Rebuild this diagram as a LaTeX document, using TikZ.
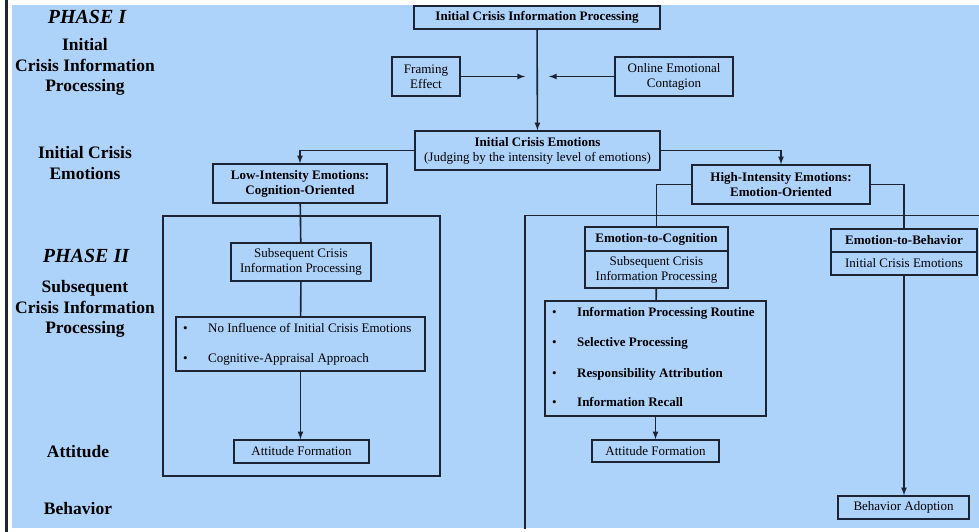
\documentclass[tikz,border=0pt]{standalone}
\usepackage{fontspec}
\setmainfont{Liberation Serif}
\usetikzlibrary{shapes,arrows,positioning,fit,calc}
\definecolor{panelblue}{RGB}{174,211,251}
\definecolor{lineink}{RGB}{28,36,52}

\begin{document}
\begin{tikzpicture}[
    x=1pt, y=-1pt,
    box/.style={draw=lineink, rectangle, line width=1.5pt, inner sep=0pt, align=center, font=\fontsize{13}{15}\selectfont},
    bbox/.style={box, font=\fontsize{13}{15}\selectfont\bfseries},
    item/.style={anchor=west, inner sep=0pt, text height=9pt, text depth=3pt, font=\fontsize{13}{15}\selectfont},
    phase/.style={font=\fontsize{20}{22}\selectfont\bfseries\itshape},
    stage/.style={align=center, font=\fontsize{17.5}{20.5}\selectfont\bfseries},
    link/.style={draw=lineink, line width=1.6pt},
    arrow/.style={link, ->, >=latex}
]
\useasboundingbox (0,0) rectangle (979,532);
\fill[white] (0,0) rectangle (979,532);
\fill[lineink] (4.5,0) rectangle (8,532);
\fill[panelblue] (12,5) rectangle (979,528);
\clip (12,5) rectangle (979,528);

% Stage labels
\node[phase] (phaseone) at (87,17) {PHASE I};
\node[stage] (lblicip) at (85,67) {Initial\\Crisis Information\\Processing};
\node[stage] (lblice) at (85,163) {Initial Crisis\\Emotions};
\node[phase] (phasetwo) at (86,256) {PHASE II};
\node[stage] (lblscip) at (85,309) {Subsequent\\Crisis Information\\Processing};
\node[stage] (lblatt) at (78,452) {Attitude};
\node[stage] (lblbeh) at (78,509) {Behavior};

% Phase I
\node[bbox, minimum width=246pt, minimum height=23pt] (icip) at (537,17.5) {Initial Crisis Information Processing};
\node[box, minimum width=68pt, minimum height=39pt] (framing) at (426,76.5) {Framing\\Effect};
\node[box, minimum width=118pt, minimum height=39pt] (online) at (674,76.5) {Online Emotional\\Contagion};
\node[box, minimum width=245pt, minimum height=39pt] (ice) at (537.5,150.5) {\textbf{Initial Crisis Emotions}\\(Judging by the intensity level of emotions)};
\coordinate (mixl) at (525,76.5);
\coordinate (mixr) at (549,76.5);

% Intensity branches
\node[bbox, minimum width=174pt, minimum height=39pt] (low) at (300,183.5) {Low-Intensity Emotions:\\Cognition-Oriented};
\node[bbox, minimum width=178pt, minimum height=39pt] (high) at (781,184.5) {High-Intensity Emotions:\\Emotion-Oriented};

% Phase II frames
\draw[link] (163,216) rectangle (440,476);
\draw[link] (525,540) |- (990,215.5);

% Low-intensity path
\node[box, minimum width=140pt, minimum height=38pt] (sublow) at (301,262) {Subsequent Crisis\\Information Processing};
\node[box, minimum width=249pt, minimum height=54pt] (listlow) at (300.5,344) {};
\node[item] (bl1) at (183,329) {\textbullet};
\node[item] (il1) at (208,329) {No Influence of Initial Crisis Emotions};
\node[item] (bl2) at (183,359) {\textbullet};
\node[item] (il2) at (208,359) {Cognitive-Appraisal Approach};
\node[box, minimum width=135pt, minimum height=23pt] (attlow) at (301.5,451.5) {Attitude Formation};

% Emotion-to-cognition path
\node[bbox, minimum width=143pt, minimum height=24pt] (etoc) at (656.5,239) {Emotion-to-Cognition};
\node[box, minimum width=143pt, minimum height=37pt] (subhigh) at (656.5,269.5) {Subsequent Crisis\\Information Processing};
\node[box, minimum width=221pt, minimum height=115pt] (listhigh) at (655.5,358.5) {};
\node[item] (bh1) at (552,313) {\textbullet};
\node[item, font=\fontsize{13}{15}\selectfont\bfseries] (ih1) at (577,313) {Information Processing Routine};
\node[item] (bh2) at (552,343) {\textbullet};
\node[item, font=\fontsize{13}{15}\selectfont\bfseries] (ih2) at (577,343) {Selective Processing};
\node[item] (bh3) at (552,374) {\textbullet};
\node[item, font=\fontsize{13}{15}\selectfont\bfseries] (ih3) at (577,374) {Responsibility Attribution};
\node[item] (bh4) at (552,403) {\textbullet};
\node[item, font=\fontsize{13}{15}\selectfont\bfseries] (ih4) at (577,403) {Information Recall};
\node[box, minimum width=127pt, minimum height=22pt] (atthigh) at (655.5,451) {Attitude Formation};

% Emotion-to-behavior path
\node[bbox, minimum width=146pt, minimum height=23pt] (etob) at (904,240.5) {Emotion-to-Behavior};
\node[box, minimum width=146pt, minimum height=23pt] (icebody) at (904,263.5) {Initial Crisis Emotions};
\node[box, minimum width=131pt, minimum height=23pt] (adopt) at (903.5,507.5) {Behavior Adoption};

% Arrows
\draw[arrow] (icip) -- (ice);
\draw[arrow] (framing) -- (mixl);
\draw[arrow] (online) -- (mixr);
\draw[arrow] (ice.west) -| (low.north);
\draw[arrow] (ice.east) -| (high.north);
\draw[link] (low) -- (sublow);
\draw[link] (sublow) -- (listlow);
\draw[arrow] (listlow.south) -- (listlow.south |- attlow.north);
\draw[link] (high.west) -| (etoc.north);
\draw[link] (high.east) -| (etob.north);
\draw[link] (subhigh) -- (listhigh);
\draw[arrow] (listhigh) -- (atthigh);
\draw[arrow] (icebody.south) -- (icebody.south |- adopt.north);
\end{tikzpicture}
\end{document}
